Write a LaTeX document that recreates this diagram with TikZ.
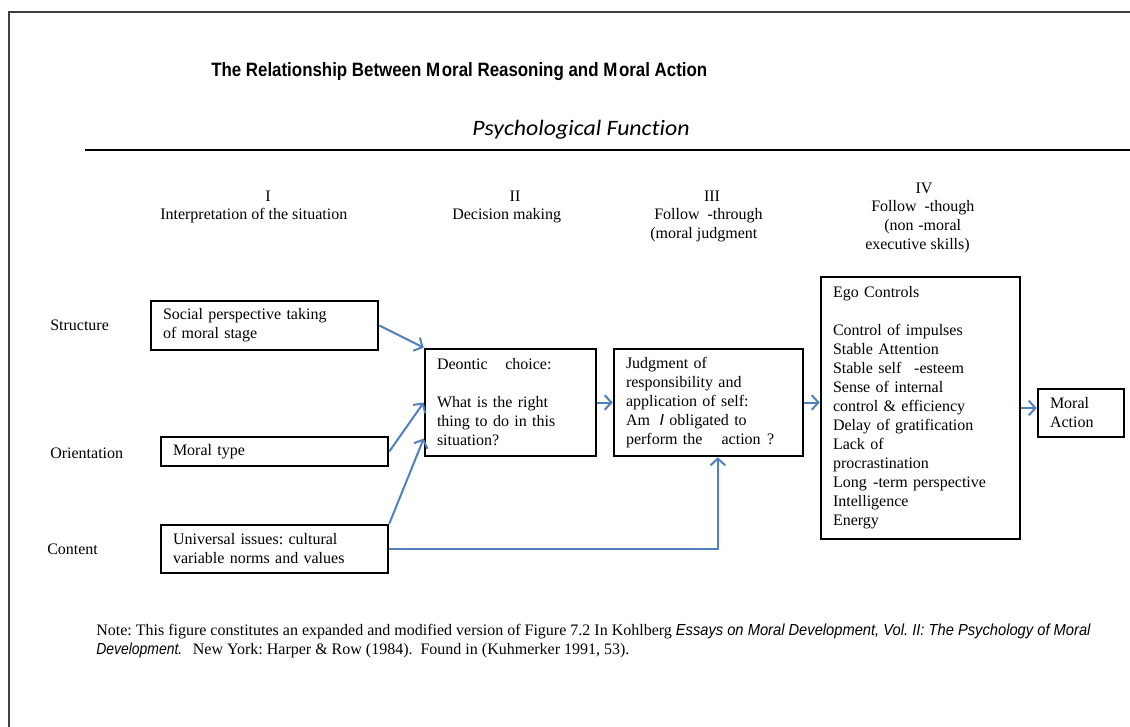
\documentclass[tikz,border=0pt]{standalone}
\usepackage{fontspec}
\setmainfont{Liberation Serif}
\newfontfamily\arialfont{Liberation Sans}
\newfontfamily\calfont[Ligatures=NoCommon]{Carlito}
\usetikzlibrary{arrows.meta,calc}
\definecolor{arrowblue}{RGB}{79,129,189}
\newsavebox\fitbox
\newcommand\fitw[2]{\sbox\fitbox{#2}\edef\fitnat{\the\wd\fitbox}\pgfmathsetmacro\fitf{#1/\fitnat}\scalebox{\fitf}[1]{\usebox\fitbox}}
\frenchspacing
\begin{document}
\begin{tikzpicture}[x=0.75pt,y=-0.75pt,
  every node/.style={inner sep=0pt, font=\fontsize{12}{14.25}\selectfont},
  lbl/.style={anchor=west},
  box/.style={draw, line width=1.9pt, inner xsep=9pt, inner ysep=0pt, align=left, anchor=center},
  conn/.style={draw=arrowblue, line width=1.5pt, -{Straight Barb[length=5pt,width=11pt,line width=1.5pt]}}
]
\useasboundingbox (0,0) rectangle (1130,727);
\fill[white] (0,0) rectangle (1130,727);
\draw[black!75, line width=1.2pt] (1130,12) -- (9,12) -- (9,727);

% title and heading
\node[lbl] (title) at (211,72) {\fitw{372pt}{\arialfont\bfseries\fontsize{14.5}{17}\selectfont The Relationship Between M\kern1.5pt oral Reasoning and M\kern1.5pt oral Action}};
\node[lbl] (pf) at (472,130) {\fitw{163pt}{\calfont\itshape\fontsize{16.5}{19}\selectfont Psychological Function}};
\draw[line width=1.6pt] (85,150) -- (1130,150);

% column headers
\node (h1n) at (268,196) {I};
\node[lbl] (h1t) at (160,216) {Interpretation of the situation};
\node (h2n) at (515,196) {II};
\node[lbl] (h2t) at (452,216) {Decision making};
\node (h3n) at (712,196) {III};
\node[lbl] (h3a) at (654,216) {Follow\hspace{0.5em}-through};
\node[lbl] (h3b) at (650,235) {(moral judgment};
\node (h4n) at (924,188) {IV};
\node[lbl] (h4a) at (871,208) {Follow\hspace{0.5em}-though};
\node[lbl] (h4b) at (884,227) {(non\hspace{0.3em}-moral};
\node[lbl] (h4c) at (865,246) {executive skills)};

% row labels
\node[lbl] (structure) at (50,325) {Structure};
\node[lbl] (orientation) at (50,453) {Orientation};
\node[lbl] (content) at (47,549) {Content};

% boxes
\node[box, text width=152.25pt, minimum height=36.75pt] (social) at (264.5,325.5)
  {Social perspective taking\\of moral stage};
\node[box, text width=152.25pt, minimum height=21.75pt] (moraltype) at (274.5,451.5)
  {Moral type};
\node[box, text width=152.25pt, minimum height=36pt] (universal) at (274.5,549)
  {Universal issues: cultural\\variable norms and values};
\node[box, text width=110.25pt, minimum height=80.25pt] (deontic) at (510.5,402.5)
  {Deontic\hspace{1.1em}choice:\\[14.25pt]What is the right\\thing to do in this\\situation?};
\node[box, text width=123.75pt, minimum height=80.25pt] (judgment) at (708.5,402.5)
  {Judgment of\\responsibility and\\application of self:\\Am\hspace{0.6em}{\arialfont\itshape I} obligated to\\perform the\hspace{1.2em}action\hspace{0.4em}?};
\node[box, text width=131.25pt, minimum height=196.5pt] (ego) at (920.5,408)
  {Ego Controls\\[14.25pt]Control of impulses\\Stable Attention\\Stable self\hspace{0.8em}-esteem\\Sense of internal\\control \& efficiency\\Delay of gratification\\Lack of\\procrastination\\Long\hspace{0.4em}-term perspective\\Intelligence\\Energy};
\node[box, text width=46.5pt, minimum height=36pt] (moralaction) at (1081,413)
  {Moral\\Action};

% connectors
\draw[conn] (social.east) -- (deontic.north west);
\draw[conn] (moraltype.east) -- (deontic.west);
\draw[conn] (universal.north east) -- ([yshift=-27pt]deontic.west);
\draw[conn] (deontic.east) -- (judgment.west);
\draw[conn] (judgment.east) -- (judgment.east -| ego.west);
\draw[conn] (ego.east) -- (ego.east -| moralaction.west);
\draw[conn] (universal.east) -| ([xshift=7pt]judgment.south);

% note
\node[lbl] (note1) at (96,631) {Note: This figure constitutes an expanded and modified version of Figure 7.2 In Kohlberg \fitw{311pt}{\arialfont\itshape Essays on Moral Development, Vol. II: The Psychology of Moral}};
\node[lbl] (note2) at (96,650) {\fitw{64.5pt}{\arialfont\itshape Development.}\hspace{8pt}New York: Harper \& Row (1984).\hspace{6pt}Found in (Kuhmerker 1991, 53).};
\end{tikzpicture}
\end{document}
